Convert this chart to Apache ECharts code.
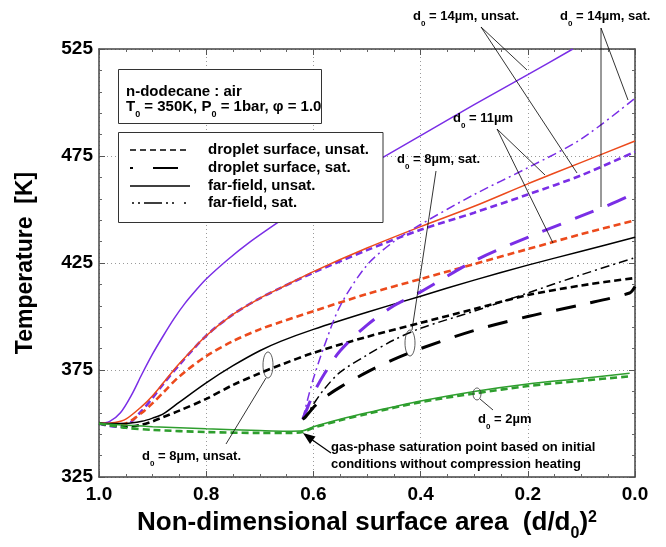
<!DOCTYPE html>
<html>
<head>
<meta charset="utf-8">
<script src="https://cdn.jsdelivr.net/npm/echarts@6/dist/echarts.min.js"></script>
<style>
html, body { margin: 0; padding: 0; background: #fff; }
#chart { width: 666px; height: 547px; }
</style>
</head>
<body>
<div id="chart"></div>
<script>
// x = (d/d0)^2, T in K
var xUnsat = [1.0, 0.97, 0.95, 0.92, 0.90, 0.88, 0.85, 0.80, 0.75, 0.70, 0.66, 0.60, 0.50, 0.40, 0.30, 0.20, 0.10, 0.0];
var ff14Unsat_x = [1.0, 0.98, 0.96, 0.94, 0.92, 0.90, 0.88, 0.86, 0.84, 0.82, 0.80, 0.76, 0.72, 0.66, 0.60, 0.50, 0.40, 0.30, 0.20, 0.116];
var ff14Unsat_T = [350, 351, 355, 363, 373, 382.5, 391, 399, 406, 412, 417.5, 426.5, 434.5, 445, 455, 470, 484.5, 499, 513, 525];
var ds14Unsat_T = [350, 348.5, 349, 356, 362, 368.5, 377.5, 391, 401, 408.5, 413.5, 420.5, 431, 440.5, 448.5, 457, 466, 477];
var ff11Unsat_T = [350, 350.5, 352, 358, 363, 369, 378, 391, 401, 408.5, 413.5, 421, 432, 442, 451.5, 462, 472, 482];
var ds11Unsat_T = [350, 349.5, 350, 355, 359.5, 364.5, 372, 381.5, 388.5, 394, 397.5, 402.5, 410.5, 417.5, 424.5, 431.5, 438.5, 445];
var ff8Unsat_T = [350, 350, 350, 351, 352.5, 354.5, 360, 369, 377, 384, 388.5, 394, 402, 409.5, 417, 424, 430.5, 437];
var ds8Unsat_T = [350, 349, 348.5, 349.5, 351, 353, 356, 361.5, 368, 373.5, 377.5, 383, 390.5, 397, 403.5, 410, 414.5, 418];

var x2 = [1.0, 0.95, 0.90, 0.80, 0.70, 0.65, 0.62, 0.60, 0.55, 0.50, 0.40, 0.30, 0.20, 0.10, 0.01];
var ff2Unsat_T = [350, 349.2, 348.5, 347.5, 346.7, 346.4, 346.6, 348.5, 352, 355, 360.5, 365, 368.5, 371, 373.5];
var ds2Unsat_T = [350, 348, 347, 346, 345.6, 345.6, 346, 348, 351.5, 354.5, 360, 364, 367.5, 370, 372];

var xSat = [0.62, 0.615, 0.61, 0.60, 0.58, 0.55, 0.50, 0.45, 0.40, 0.30, 0.20, 0.10, 0.0];
var ff14Sat_T = [352, 357, 362, 371, 386, 405, 424, 435, 443, 457, 469.5, 483, 502];
var ff8Sat_T = [352, 353.5, 355, 359, 366, 374, 382, 389, 394.5, 402.5, 411, 419.5, 427.5];
var xSatDs = [0.62, 0.615, 0.61, 0.60, 0.58, 0.55, 0.50, 0.45, 0.40, 0.30, 0.20, 0.10, 0.01, 0.0];
var ds14Sat_T = [352, 355, 358, 364, 373, 384, 396, 405, 411.5, 426, 437, 447, 456.5, 460];
var ds8Sat_T = [352, 353, 354.5, 357.5, 362, 367, 374, 380, 385, 393.5, 400, 405.5, 411, 414];

var xTicks = [1.0, 0.8, 0.6, 0.4, 0.2, 0.0];
var yTicks = [325, 375, 425, 475, 525];

var PURPLE = '#7a2ee6', RED = '#ec4a1c', GREEN = '#2e9e2e', BLACK = '#000';

function pairs(xs, ts) {
    return xs.map(function(x, i) { return [x, ts[i]]; });
}

function curve(name, xs, ts, color, kind) {
    var ls = { color: color, width: 1.5, type: 'solid' };
    if (kind === 'dash') { ls.width = 2.6; ls.type = [7, 4]; }
    if (kind === 'long') { ls.width = 3; ls.type = [20, 15]; }
    if (kind === 'dashdot') { ls.width = 1.5; ls.type = [9, 4, 2, 4]; }
    return {
        name: name, type: 'line', data: pairs(xs, ts), showSymbol: false,
        smooth: 0.3, lineStyle: ls, silent: true, z: 2
    };
}

var chart = echarts.init(document.getElementById('chart'));

var mainFont = 'Liberation Sans, Arial, sans-serif';
// rich styles for small annotation text with subscript 0
var richSmall = {
    m: { fontFamily: mainFont, fontSize: 13, fontWeight: 'bold', lineHeight: 14, verticalAlign: 'top', fill: '#000' },
    s: { fontFamily: mainFont, fontSize: 8, fontWeight: 'bold', lineHeight: 8, padding: [10, 0, 0, 0], verticalAlign: 'top', fill: '#000' }
};
var richLegend = {
    m: { fontFamily: mainFont, fontSize: 15, fontWeight: 'bold', lineHeight: 16, verticalAlign: 'top', fill: '#000' },
    s: { fontFamily: mainFont, fontSize: 9, fontWeight: 'bold', lineHeight: 9, padding: [11, 0, 0, 0], verticalAlign: 'top', fill: '#000' }
};

function label(txt, x, yc, rich, half) {
    return {
        type: 'text', z: 110, silent: true,
        style: { text: txt, x: x, y: yc - half, rich: rich, verticalAlign: 'top', align: 'left' }
    };
}
function seg(x1, y1, x2, y2, w, dash) {
    return {
        type: 'line', z: 105, silent: true,
        shape: { x1: x1, y1: y1, x2: x2, y2: y2 },
        style: { stroke: '#000', lineWidth: w || 0.8, lineDash: dash || null }
    };
}
function ell(cx, cy, rx, ry) {
    return {
        type: 'ellipse', z: 105, silent: true,
        shape: { cx: cx, cy: cy, rx: rx, ry: ry },
        style: { stroke: '#333', fill: 'none', lineWidth: 0.8 }
    };
}

var graphics = [
    // info box
    { type: 'rect', z: 100, silent: true, shape: { x: 118.5, y: 69.5, width: 203, height: 54 },
      style: { fill: '#fff', stroke: '#333', lineWidth: 1 } },
    label('{m|n-dodecane : air}', 126, 92, richLegend, 8),
    label('{m|T}{s|0}{m| = 350K, P}{s|0}{m| = 1bar, φ = 1.0}', 126, 107, richLegend, 8),
    // line-style legend box
    { type: 'rect', z: 100, silent: true, shape: { x: 118.5, y: 132.5, width: 264.5, height: 90 },
      style: { fill: '#fff', stroke: '#333', lineWidth: 1 } },
    seg(130, 150, 190, 150, 1.5, [6, 4]),
    label('{m|droplet surface, unsat.}', 208, 150, richLegend, 8),
    seg(130, 168, 178, 168, 2.2, [3, 20, 25, 100]),
    label('{m|droplet surface, sat.}', 208, 168, richLegend, 8),
    seg(130, 186, 190, 186, 1.5),
    label('{m|far-field, unsat.}', 208, 186, richLegend, 8),
    seg(132, 203, 190, 203, 1.5, [2, 4, 2, 4, 18, 4, 2, 4, 2, 10]),
    label('{m|far-field, sat.}', 208, 203, richLegend, 8),

    // annotations
    label('{m|d}{s|0}{m| = 14µm, unsat.}', 413, 17, richSmall, 7),
    seg(481, 27, 527, 70), seg(481, 27, 577, 173),
    label('{m|d}{s|0}{m| = 14µm, sat.}', 560, 17, richSmall, 7),
    seg(601, 28, 628, 100), seg(601, 28, 601, 207),
    label('{m|d}{s|0}{m| = 11µm}', 453, 119, richSmall, 7),
    seg(497, 129, 545, 175), seg(497, 129, 553, 243),
    label('{m|d}{s|0}{m| = 8µm, sat.}', 397, 160, richSmall, 7),
    seg(436, 171, 412, 330), ell(410, 343, 5, 13),
    label('{m|d}{s|0}{m| = 8µm, unsat.}', 142, 457, richSmall, 7),
    seg(226, 444, 266, 378), ell(268, 365, 5, 13),
    label('{m|d}{s|0}{m| = 2µm}', 478, 420, richSmall, 7),
    ell(477, 394, 4, 6), seg(480, 399, 493, 410),
    label('{m|gas-phase saturation point based on initial}', 331, 448, richSmall, 7),
    label('{m|conditions without compression heating}', 331, 465, richSmall, 7),
    seg(331, 453, 311, 439, 1.2),
    { type: 'polygon', z: 105, silent: true,
      shape: { points: [[303, 433], [315.5, 436.5], [310, 444]] },
      style: { fill: '#000' } }
];

var tickLabelStyle = { fontFamily: mainFont, fontSize: 19, fontWeight: 'bold', color: '#000' };
var axisLineStyle = { show: true, onZero: false, lineStyle: { color: '#444', width: 1.5 } };
var gridLineStyle = { show: true, lineStyle: { color: '#9a9a9a', width: 1, type: [1, 3] } };

var option = {
    animation: false,
    backgroundColor: '#fff',
    grid: { left: 99, right: 31, top: 49, bottom: 69, containLabel: false },
    xAxis: [{
        type: 'value', min: 0, max: 1, interval: 0.2, inverse: true, position: 'bottom',
        axisLine: axisLineStyle,
        axisTick: { inside: true, length: 6, lineStyle: { color: '#555' } },
        minorTick: { show: true, splitNumber: 4, length: 3, lineStyle: { color: '#666' } },
        splitLine: gridLineStyle,
        axisLabel: Object.assign({ margin: 8, showMinLabel: true, showMaxLabel: true,
            formatter: function(v) { return v.toFixed(1); } }, tickLabelStyle),
        name: '{m|Non-dimensional surface area  (d/d}{s|0}{m|)}{p|2}',
        nameLocation: 'middle', nameGap: 33,
        nameTextStyle: {
            rich: {
                m: { fontFamily: mainFont, fontSize: 26, fontWeight: 'bold', lineHeight: 28, verticalAlign: 'top', color: '#000' },
                s: { fontFamily: mainFont, fontSize: 16, fontWeight: 'bold', lineHeight: 16, padding: [16, 0, 0, 0], verticalAlign: 'top', color: '#000' },
                p: { fontFamily: mainFont, fontSize: 16, fontWeight: 'bold', lineHeight: 12, verticalAlign: 'top', color: '#000' }
            }
        }
    }, {
        type: 'value', min: 0, max: 1, interval: 0.2, inverse: true, position: 'top',
        axisLine: axisLineStyle,
        axisTick: { inside: true, length: 6, lineStyle: { color: '#555' } },
        minorTick: { show: true, splitNumber: 4, length: 3, lineStyle: { color: '#666' } },
        splitLine: { show: false }, axisLabel: { show: false }
    }],
    yAxis: [{
        type: 'value', min: 325, max: 525, interval: 50, position: 'left',
        axisLine: axisLineStyle,
        axisTick: { inside: true, length: 6, lineStyle: { color: '#555' } },
        minorTick: { show: true, splitNumber: 5, length: 3, lineStyle: { color: '#666' } },
        splitLine: gridLineStyle,
        axisLabel: Object.assign({ margin: 6, showMinLabel: true, showMaxLabel: true }, tickLabelStyle),
        name: 'Temperature  [K]', nameLocation: 'middle', nameGap: 62,
        nameTextStyle: { fontFamily: mainFont, fontSize: 23, fontWeight: 'bold', color: '#000' }
    }, {
        type: 'value', min: 325, max: 525, interval: 50, position: 'right',
        axisLine: axisLineStyle,
        axisTick: { inside: true, length: 6, lineStyle: { color: '#555' } },
        minorTick: { show: true, splitNumber: 5, length: 3, lineStyle: { color: '#666' } },
        splitLine: { show: false }, axisLabel: { show: false }
    }],
    series: [
        curve('d0=14 far-field unsat', ff14Unsat_x, ff14Unsat_T, PURPLE, 'solid'),
        curve('d0=14 droplet unsat', xUnsat, ds14Unsat_T, PURPLE, 'dash'),
        curve('d0=11 far-field unsat', xUnsat, ff11Unsat_T, RED, 'solid'),
        curve('d0=11 droplet unsat', xUnsat, ds11Unsat_T, RED, 'dash'),
        curve('d0=8 far-field unsat', xUnsat, ff8Unsat_T, BLACK, 'solid'),
        curve('d0=8 droplet unsat', xUnsat, ds8Unsat_T, BLACK, 'dash'),
        curve('d0=2 far-field unsat', x2, ff2Unsat_T, GREEN, 'solid'),
        curve('d0=2 droplet unsat', x2, ds2Unsat_T, GREEN, 'dash'),
        curve('d0=14 far-field sat', xSat, ff14Sat_T, PURPLE, 'dashdot'),
        curve('d0=14 droplet sat', xSatDs, ds14Sat_T, PURPLE, 'long'),
        curve('d0=8 far-field sat', xSat, ff8Sat_T, BLACK, 'dashdot'),
        curve('d0=8 droplet sat', xSatDs, ds8Sat_T, BLACK, 'long')
    ],
    graphic: graphics
};

chart.setOption(option);
</script>
</body>
</html>
